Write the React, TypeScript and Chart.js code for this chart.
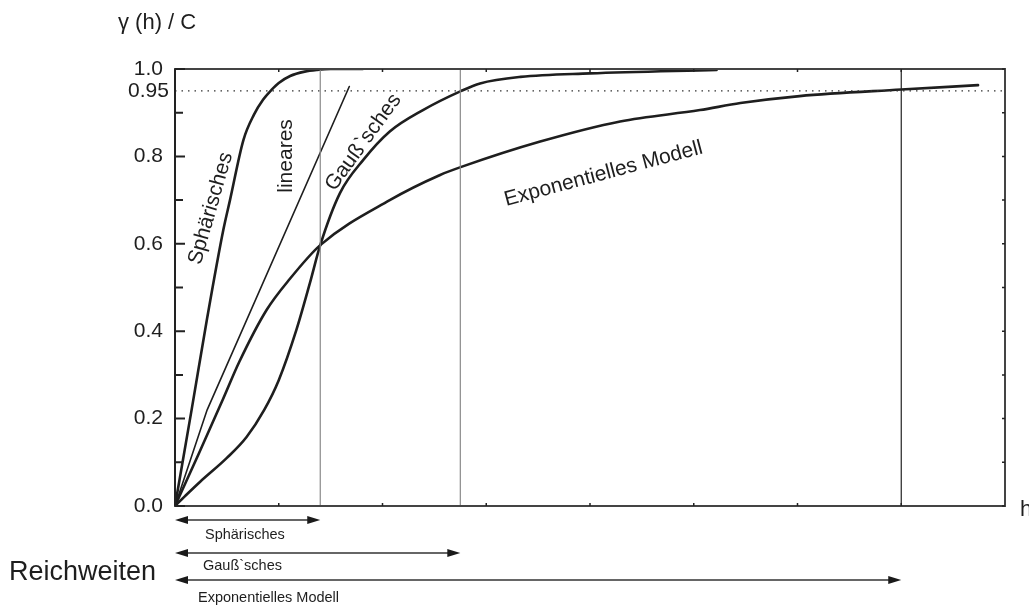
import React, { useEffect, useRef } from "react";
import { Chart, registerables } from "chart.js";

Chart.register(...registerables);

// ---- data ----
const sphericalCurve: number[][] = [
  [0, 0], [0.16, 0.22], [0.31, 0.43], [0.466, 0.632], [0.53, 0.7], [0.66, 0.838],
  [0.76, 0.895], [0.85, 0.93], [0.93, 0.952], [1.0, 0.968], [1.11, 0.984],
  [1.25, 0.994], [1.37, 0.998], [1.5, 1.0], [1.81, 1.0],
];
const linearCurve: number[][] = [[0, 0], [0.31, 0.22], [1.68, 0.96]];
const gaussianCurve: number[][] = [
  [0, 0], [0.12, 0.028], [0.24, 0.055], [0.5, 0.11], [0.69, 0.158], [0.86, 0.22],
  [1.0, 0.288], [1.17, 0.403], [1.3, 0.51], [1.4, 0.597], [1.59, 0.716],
  [1.815, 0.792], [2.07, 0.857], [2.39, 0.906], [2.76, 0.95], [2.94, 0.967],
  [3.33, 0.982], [4.0, 0.99], [5.22, 0.998],
];
const exponentialCurve: number[][] = [
  [0, 0], [0.23, 0.12], [0.46, 0.243], [0.62, 0.33], [0.884, 0.449], [1.108, 0.52],
  [1.4, 0.597], [2.07, 0.7], [2.55, 0.757], [2.76, 0.776], [3.52, 0.834],
  [4.29, 0.88], [5.06, 0.906], [5.45, 0.922], [6.02, 0.938], [7.0, 0.953],
  [7.74, 0.963],
];
const sillLevel = 0.95;
const rangeValues = [1.4, 2.75, 7.0];
const rangeLabels = ["Sphärisches", "Gauß`sches", "Exponentielles Modell"];
const curveLabelTexts = ["Sphärisches", "lineares", "Gauß`sches", "Exponentielles Modell"];
const curveLabelX = [0.345, 1.07, 1.815, 4.13];
const curveLabelY = [0.681, 0.801, 0.832, 0.76];
const yMinorTicks = [0.1, 0.3, 0.5, 0.7, 0.9];
const xTicks = [1, 2, 3, 4, 5, 6, 7];
const yTitle = "γ (h) / C";
const xTitle = "h";
const groupTitle = "Reichweiten";

// ---- styles ----
const FONT = "'Liberation Sans', Arial, Helvetica, sans-serif";
const INK = "#1e1e1e";
const curveLabelAngles = [-74, -90, -54, -15];
const rangeLineColors = ["#8a8a8a", "#8a8a8a", "#222222"];
const arrowOffsets = [14, 47, 74];
const arrowLabelOffsets = [29, 60, 92];
const arrowLabelLeft = [30, 28, 23];

const pts = (a: number[][]) => a.map(([x, y]) => ({ x, y }));

export default function App() {
  const ref = useRef<HTMLCanvasElement>(null);

  useEffect(() => {
    const canvas = ref.current!;
    const curve = (data: number[][], width: number, tension = 0.4) => ({
      data: pts(data),
      borderColor: INK,
      borderWidth: width,
      pointRadius: 0,
      fill: false,
      tension,
      cubicInterpolationMode: "monotone" as const,
      borderCapStyle: "round" as const,
    });

    const datasets: any[] = [
      ...rangeValues.map((v, i) => ({
        data: [{ x: v, y: 0 }, { x: v, y: 1 }],
        borderColor: rangeLineColors[i],
        borderWidth: 1.2,
        pointRadius: 0,
        tension: 0,
      })),
      {
        data: [{ x: 0, y: sillLevel }, { x: 8, y: sillLevel }],
        borderColor: "#333",
        borderWidth: 1.3,
        borderDash: [1.5, 5],
        pointRadius: 0,
        tension: 0,
      },
      curve(sphericalCurve, 2.6),
      { ...curve(linearCurve, 1.6, 0), cubicInterpolationMode: "default" },
      curve(gaussianCurve, 2.6),
      curve(exponentialCurve, 2.6),
    ];

    const decor = {
      id: "decor",
      afterDraw(chart: any) {
        const { ctx, chartArea: a, scales } = chart;
        const xs = scales.x;
        const ys = scales.y;
        ctx.save();
        // frame
        ctx.strokeStyle = "#444";
        ctx.lineWidth = 2;
        ctx.strokeRect(a.left, a.top, a.right - a.left, a.bottom - a.top);
        ctx.strokeStyle = "#222";
        ctx.beginPath();
        ctx.moveTo(a.left, a.top);
        ctx.lineTo(a.left, a.bottom);
        ctx.stroke();
        // ticks
        ctx.lineWidth = 2;
        ctx.strokeStyle = "#222";
        ctx.beginPath();
        ys.ticks.forEach((t: any) => {
          const py = ys.getPixelForValue(t.value);
          ctx.moveTo(a.left, py);
          ctx.lineTo(a.left + 10, py);
        });
        yMinorTicks.forEach((v) => {
          const py = ys.getPixelForValue(v);
          ctx.moveTo(a.left, py);
          ctx.lineTo(a.left + 8, py);
        });
        ctx.stroke();
        ctx.lineWidth = 1.5;
        ctx.beginPath();
        [...ys.ticks.map((t: any) => t.value), ...yMinorTicks].forEach((v: number) => {
          const py = ys.getPixelForValue(v);
          ctx.moveTo(a.right, py);
          ctx.lineTo(a.right - 3, py);
        });
        xTicks.forEach((v) => {
          const px = xs.getPixelForValue(v);
          ctx.moveTo(px, a.bottom);
          ctx.lineTo(px, a.bottom - 3);
          ctx.moveTo(px, a.top);
          ctx.lineTo(px, a.top + 3);
        });
        ctx.stroke();

        ctx.fillStyle = INK;
        // 0.95 label
        ctx.font = `21px ${FONT}`;
        ctx.textAlign = "left";
        ctx.textBaseline = "middle";
        ctx.fillText(sillLevel.toFixed(2), a.left - 47, ys.getPixelForValue(sillLevel));
        // axis titles
        ctx.font = `22px ${FONT}`;
        ctx.fillText(yTitle, a.left - 57, 23);
        ctx.fillText(xTitle, a.right + 15, a.bottom + 4);

        // curve labels
        ctx.font = `21px ${FONT}`;
        ctx.textAlign = "center";
        curveLabelTexts.forEach((txt, i) => {
          ctx.save();
          ctx.translate(xs.getPixelForValue(curveLabelX[i]), ys.getPixelForValue(curveLabelY[i]));
          ctx.rotate((curveLabelAngles[i] * Math.PI) / 180);
          ctx.fillText(txt, 0, 0);
          ctx.restore();
        });

        // range arrows
        const x0 = xs.getPixelForValue(0);
        const head = 13;
        const hw = 4;
        rangeValues.forEach((v, i) => {
          const x1 = xs.getPixelForValue(v);
          const y = a.bottom + arrowOffsets[i];
          ctx.strokeStyle = "#333";
          ctx.lineWidth = 1.4;
          ctx.beginPath();
          ctx.moveTo(x0 + head - 1, y);
          ctx.lineTo(x1 - head + 1, y);
          ctx.stroke();
          ctx.fillStyle = "#1a1a1a";
          ctx.beginPath();
          ctx.moveTo(x0, y);
          ctx.lineTo(x0 + head, y - hw);
          ctx.lineTo(x0 + head, y + hw);
          ctx.closePath();
          ctx.fill();
          ctx.beginPath();
          ctx.moveTo(x1, y);
          ctx.lineTo(x1 - head, y - hw);
          ctx.lineTo(x1 - head, y + hw);
          ctx.closePath();
          ctx.fill();
          ctx.fillStyle = INK;
          ctx.font = `14.5px ${FONT}`;
          ctx.textAlign = "left";
          ctx.textBaseline = "middle";
          ctx.fillText(rangeLabels[i], x0 + arrowLabelLeft[i], a.bottom + arrowLabelOffsets[i]);
        });
        ctx.font = `27px ${FONT}`;
        ctx.textAlign = "left";
        ctx.fillText(groupTitle, 9, a.bottom + 67);
        ctx.restore();
      },
    };

    const chart = new Chart(canvas, {
      type: "line",
      data: { datasets },
      options: {
        animation: false,
        responsive: false,
        devicePixelRatio: 1,
        layout: { padding: { left: 115, right: 24, top: 69, bottom: 102 } },
        plugins: { legend: { display: false }, tooltip: { enabled: false } },
        scales: {
          x: { type: "linear", min: 0, max: 8, display: false },
          y: {
            type: "linear",
            min: 0,
            max: 1,
            grid: { display: false, drawTicks: false },
            border: { display: false },
            afterFit: (s: any) => {
              s.width = 60;
            },
            ticks: {
              stepSize: 0.2,
              padding: 12,
              color: INK,
              font: { family: FONT, size: 21 },
              callback: (v: any) => Number(v).toFixed(1),
            },
          },
        },
      },
      plugins: [decor],
    });
    return () => chart.destroy();
  }, []);

  return (
    <div style={{ position: "fixed", left: 0, top: 0, width: 1029, height: 608, background: "#fff" }}>
      <canvas ref={ref} width={1029} height={608} style={{ display: "block" }} />
    </div>
  );
}
